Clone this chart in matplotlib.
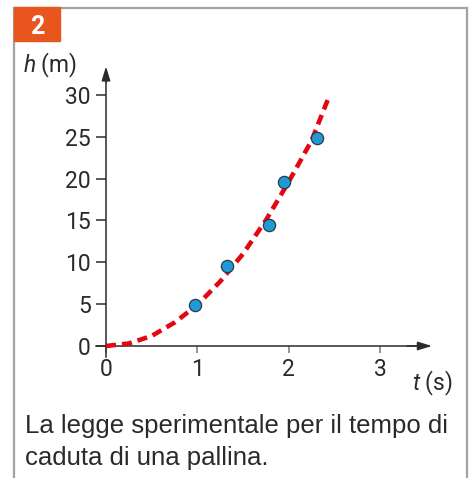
import matplotlib
matplotlib.use("Agg")
import matplotlib.pyplot as plt
from matplotlib.patches import Rectangle
from matplotlib.lines import Line2D

# ---- data ----
t_meas = [0.97, 1.33, 1.79, 1.95, 2.31]
h_meas = [4.9, 9.6, 14.5, 19.6, 24.9]
t_curve = [0, 0.25, 0.5, 0.75, 1.0, 1.25, 1.5, 1.75, 2.0, 2.25, 2.45]
h_curve = [0, 0.3, 1.2, 2.8, 4.9, 7.7, 11.0, 15.0, 19.6, 24.5, 30.0]
x_ticks = [0, 1, 2, 3]
y_ticks = [0, 5, 10, 15, 20, 25, 30]
x_label_txt = r"$\mathit{t}$ (s)"
y_label_txt = r"$\mathit{h}$ (m)"
caption_lines = ["La legge sperimentale per il tempo di", "caduta di una pallina."]
badge_txt = "2"

# ---- style ----
plt.rcParams['mathtext.fontset'] = 'custom'
plt.rcParams['mathtext.it'] = 'Roboto:italic'
plt.rcParams['mathtext.rm'] = 'Roboto'
W, H = 469, 478
TXT = '#2a2a2a'
AX = '#2b2b2b'
fig = plt.figure(figsize=(W / 100, H / 100), dpi=100)

# pixel layout
x0_px, px_per_t = 106, 91.3
y0_px, px_per_h = 346, 8.37
L, R, T, B = 80, 450, 55, 370
ax = fig.add_axes([L / W, 1 - B / H, (R - L) / W, (B - T) / H])
ax.set_xlim((L - x0_px) / px_per_t, (R - x0_px) / px_per_t)
ax.set_ylim((y0_px - B) / px_per_h, (y0_px - T) / px_per_h)
ax.patch.set_alpha(0)

for s in ['top', 'right']:
    ax.spines[s].set_visible(False)
ax.spines['left'].set_position(('data', 0))
ax.spines['bottom'].set_position(('data', 0))
ax.spines['left'].set_bounds(-1.3, 32.5)
ax.spines['bottom'].set_bounds(-0.11, 3.45)
for s in ['left', 'bottom']:
    ax.spines[s].set_color(AX)
    ax.spines[s].set_linewidth(1.1)

ax.annotate('', xy=(3.57, 0), xytext=(3.3, 0),
            arrowprops=dict(arrowstyle='-|>,head_length=0.85,head_width=0.26',
                            color=AX, lw=1.1, shrinkA=0, shrinkB=0))
ax.annotate('', xy=(0, 33.4), xytext=(0, 31.5),
            arrowprops=dict(arrowstyle='-|>,head_length=0.85,head_width=0.26',
                            color=AX, lw=1.1, shrinkA=0, shrinkB=0))

ax.set_xticks(x_ticks)
ax.set_yticks(y_ticks)
ax.set_xticklabels([str(v) for v in x_ticks])
ax.set_yticklabels([str(v) for v in y_ticks])
ax.tick_params(axis='y', direction='out', length=7, width=1.1, color=AX,
               pad=4, labelsize=16.5, labelcolor=TXT)
ax.tick_params(axis='x', direction='out', length=5, width=1.1, color='#777777',
               pad=4, labelsize=16.5, labelcolor=TXT)
for lab in ax.get_xticklabels() + ax.get_yticklabels():
    lab.set_fontfamily('Roboto')

# curve and points
line, = ax.plot(t_curve, h_curve, color='#e30613', lw=3.3, zorder=3,
                solid_capstyle='butt', dash_capstyle='butt')
line.set_dashes((2.2, 1.3))
ax.plot(t_meas, h_meas, 'o', ms=8.8, mfc='#1f9ad6', mec='#2a3a4a', mew=0.9,
        zorder=4, clip_on=False)

# axis labels
fig.text(23 / W, 1 - 72 / H, y_label_txt, fontsize=16.5, family='Roboto',
         color=TXT, ha='left', va='baseline')
fig.text(412 / W, 1 - 390 / H, x_label_txt, fontsize=16.5, family='Roboto',
         color=TXT, ha='left', va='baseline')

# caption
fig.text(25 / W, 1 - 433 / H, caption_lines[0], fontsize=18.5,
         family='Liberation Sans', color=TXT, ha='left', va='baseline')
fig.text(25 / W, 1 - 465 / H, caption_lines[1], fontsize=18.5,
         family='Liberation Sans', color=TXT, ha='left', va='baseline')

# frame
bc = '#a3a3a3'
fig.add_artist(Line2D([14 / W, 467 / W], [1 - 7.5 / H, 1 - 7.5 / H], color=bc, lw=1.6))
fig.add_artist(Line2D([14 / W, 14 / W], [1 - 7.5 / H, 0], color=bc, lw=1.6))
fig.add_artist(Line2D([467 / W, 467 / W], [1 - 7.5 / H, 0], color=bc, lw=1.6))

# badge
fig.add_artist(Rectangle((14 / W, 1 - 41 / H), 46 / W, 34 / H,
                         transform=fig.transFigure, color='#e9561d', zorder=5))
fig.text(37 / W, 1 - 27 / H, badge_txt, fontsize=18, family='Roboto',
         weight='bold', color='white', ha='center', va='center', zorder=6)

fig.savefig('out.png', dpi=100)
